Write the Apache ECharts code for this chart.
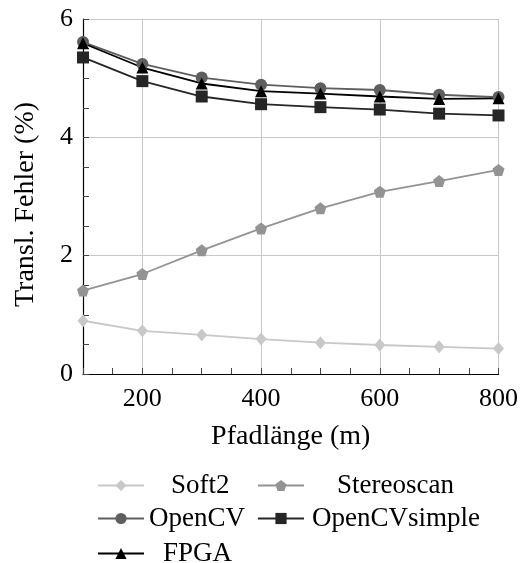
<!DOCTYPE html>
<html>
<head>
<meta charset="utf-8">
<script src="https://cdn.jsdelivr.net/npm/echarts@6/dist/echarts.min.js"></script>
<style>
  html, body { margin: 0; padding: 0; background: #fff; }
  #chart { width: 521px; height: 563px; }
</style>
</head>
<body>
<div id="chart"></div>
<script>
// Pfadlänge (m)
const pathLengths = [100, 200, 300, 400, 500, 600, 700, 800];

// Transl. Fehler (%)
const soft2 = [0.90, 0.73, 0.66, 0.59, 0.53, 0.49, 0.46, 0.43];
const stereoscan = [1.41, 1.69, 2.09, 2.46, 2.80, 3.08, 3.26, 3.45];
const openCV = [5.61, 5.24, 5.01, 4.89, 4.83, 4.80, 4.72, 4.68];
const openCVsimple = [5.35, 4.95, 4.69, 4.56, 4.51, 4.47, 4.40, 4.37];
const fpga = [5.59, 5.18, 4.91, 4.78, 4.74, 4.69, 4.65, 4.66];

const xTickLabels = [200, 400, 600, 800];
const yTickLabels = [0, 2, 4, 6];

const FONT = "'Liberation Serif', 'DejaVu Serif', serif";
const pentagon = "path://M0,-1L0.951,-0.309L0.588,0.809L-0.588,0.809L-0.951,-0.309Z";

const chart = echarts.init(document.getElementById("chart"), null, { renderer: "canvas" });

function pairs(values) {
  return pathLengths.map((x, i) => [x, values[i]]);
}

function lineSeries(name, values, color, symbol, size) {
  return {
    name: name,
    type: "line",
    data: pairs(values),
    symbol: symbol,
    symbolSize: size,
    showAllSymbol: true,
    animation: false,
    lineStyle: { color: color, width: 1.8 },
    itemStyle: { color: color },
  };
}

// eine Legende pro Eintrag, damit die Anordnung wie im Original bleibt
function legendAt(name, left, top, gap) {
  return {
    data: [name],
    left: left,
    top: top,
    padding: 0,
    itemWidth: 46,
    itemHeight: 14,
    selectedMode: false,
    textStyle: {
      fontFamily: FONT,
      fontSize: 27,
      color: "#000",
      padding: [0, 0, 0, gap],
    },
  };
}

chart.setOption({
  backgroundColor: "#fff",
  animation: false,
  grid: { left: 83, right: 20, top: 19, bottom: 189, containLabel: false },
  legend: [
    legendAt("Soft2", 97, 472, 22),
    legendAt("Stereoscan", 257, 472, 28),
    legendAt("OpenCV", 97, 505, 0),
    legendAt("OpenCVsimple", 257, 505, 3),
    legendAt("FPGA", 97, 540, 14),
  ],
  xAxis: {
    type: "value",
    min: 100,
    max: 800,
    interval: 100,
    name: "Pfadlänge (m)",
    nameLocation: "middle",
    nameGap: 49,
    nameTextStyle: { fontFamily: FONT, fontSize: 28, color: "#000" },
    axisLine: { lineStyle: { color: "#000", width: 1.2 } },
    axisTick: { inside: true, length: 6, lineStyle: { color: "#444" } },
    minorTick: { show: true, splitNumber: 2, length: 6, lineStyle: { color: "#444" } },
    axisLabel: {
      margin: 12,
      fontFamily: FONT,
      fontSize: 26,
      color: "#000",
      formatter: (v) => (xTickLabels.includes(v) ? String(v) : ""),
    },
    splitLine: { show: true, lineStyle: { color: ["transparent", "#c8c8c8"], width: 1 } },
  },
  yAxis: {
    type: "value",
    min: 0,
    max: 6,
    interval: 2,
    name: "Transl. Fehler (%)",
    nameLocation: "middle",
    nameGap: 43,
    nameTextStyle: { fontFamily: FONT, fontSize: 28, color: "#000", padding: [0, 16, 0, 0] },
    axisLine: { show: true, lineStyle: { color: "#000", width: 1.2 } },
    axisTick: { show: true, inside: true, length: 6, lineStyle: { color: "#444" } },
    minorTick: { show: true, splitNumber: 4, length: 6, lineStyle: { color: "#444" } },
    axisLabel: {
      margin: 10,
      fontFamily: FONT,
      fontSize: 26,
      color: "#000",
      formatter: (v) => (yTickLabels.includes(v) ? String(v) : ""),
    },
    splitLine: { show: true, lineStyle: { color: "#c8c8c8", width: 1 } },
  },
  series: [
    lineSeries("Soft2", soft2, "#c8c8c8", "diamond", [11, 13]),
    lineSeries("Stereoscan", stereoscan, "#939393", pentagon, 12),
    lineSeries("OpenCV", openCV, "#5e5e5e", "circle", 12),
    lineSeries("OpenCVsimple", openCVsimple, "#262626", "rect", 12),
    lineSeries("FPGA", fpga, "#000000", "triangle", 12),
  ],
});
</script>
</body>
</html>
